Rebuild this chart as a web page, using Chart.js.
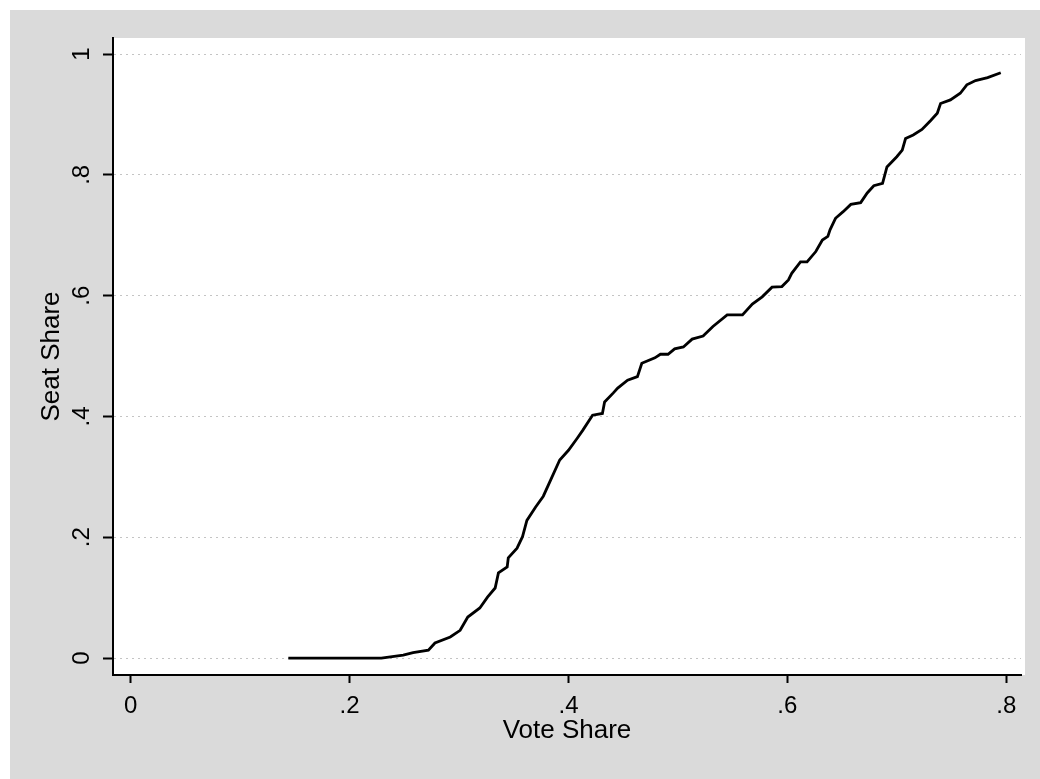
<!DOCTYPE html>
<html>
<head>
<meta charset="utf-8">
<script src="https://cdn.jsdelivr.net/npm/chart.js@4.4.1/dist/chart.umd.min.js"></script>
<style>
    html, body { margin: 0; padding: 0; background: #ffffff; }
    #wrap { width: 1040px; height: 779px; }
</style>
</head>
<body>
<div id="wrap"><canvas id="seatChart" width="1040" height="779"></canvas></div>
<script>
// Vote share vs seat share curve
var voteShare = [0.144, 0.229, 0.249, 0.258, 0.272, 0.278, 0.292, 0.301, 0.308, 0.319,
    0.326, 0.333, 0.336, 0.344, 0.345, 0.353, 0.358, 0.362, 0.370, 0.377,
    0.385, 0.392, 0.400, 0.408, 0.413, 0.422, 0.431, 0.433, 0.441, 0.445,
    0.454, 0.463, 0.467, 0.479, 0.484, 0.491, 0.497, 0.505, 0.513, 0.523,
    0.532, 0.545, 0.559, 0.568, 0.577, 0.586, 0.595, 0.601, 0.604, 0.612,
    0.618, 0.626, 0.632, 0.637, 0.639, 0.644, 0.651, 0.658, 0.667, 0.673,
    0.679, 0.687, 0.691, 0.700, 0.705, 0.708, 0.715, 0.723, 0.731, 0.737,
    0.740, 0.749, 0.758, 0.764, 0.772, 0.783, 0.795];
var seatShare = [0, 0, 0.005, 0.009, 0.013, 0.025, 0.035, 0.046, 0.068, 0.083,
    0.101, 0.116, 0.141, 0.151, 0.166, 0.182, 0.201, 0.228, 0.250, 0.268,
    0.300, 0.328, 0.344, 0.364, 0.377, 0.402, 0.405, 0.424, 0.439, 0.447,
    0.460, 0.466, 0.488, 0.497, 0.503, 0.503, 0.512, 0.515, 0.528, 0.533,
    0.549, 0.568, 0.568, 0.586, 0.598, 0.614, 0.615, 0.626, 0.637, 0.656,
    0.656, 0.673, 0.692, 0.698, 0.709, 0.728, 0.739, 0.751, 0.754, 0.770,
    0.782, 0.786, 0.813, 0.830, 0.841, 0.860, 0.866, 0.875, 0.890, 0.902,
    0.918, 0.924, 0.935, 0.949, 0.956, 0.961, 0.969];

var xTickValues = [0, 0.2, 0.4, 0.6, 0.8];
var xTickLabels = ['0', '.2', '.4', '.6', '.8'];
var yTickValues = [0, 0.2, 0.4, 0.6, 0.8, 1];
var yTickLabels = ['0', '.2', '.4', '.6', '.8', '1'];

var points = [];
for (var i = 0; i < voteShare.length; i++) {
    points.push({ x: voteShare[i], y: seatShare[i] });
}

// gray page background with a white plot region
var backgroundPlugin = {
    id: 'stataBackground',
    beforeDraw: function (chart) {
        var ctx = chart.ctx;
        var area = chart.chartArea;
        ctx.save();
        ctx.fillStyle = '#ffffff';
        ctx.fillRect(0, 0, chart.width, chart.height);
        ctx.fillStyle = '#dadada';
        ctx.fillRect(10, 10, chart.width - 10, chart.height - 10);
        ctx.fillStyle = '#ffffff';
        ctx.fillRect(area.left, area.top, area.right - area.left + 4, area.bottom - area.top);
        ctx.restore();
    }
};

var ctx = document.getElementById('seatChart').getContext('2d');
var chart = new Chart(ctx, {
    type: 'scatter',
    data: {
        datasets: [{
            label: 'Seat Share',
            data: points,
            showLine: true,
            borderColor: '#000000',
            borderWidth: 2.8,
            pointRadius: 0,
            tension: 0,
            fill: false
        }]
    },
    options: {
        responsive: false,
        animation: false,
        layout: { padding: { left: 0, top: 38, right: 19, bottom: 0 } },
        plugins: {
            legend: { display: false },
            tooltip: { enabled: false }
        },
        scales: {
            x: {
                type: 'linear',
                min: -0.0162,
                max: 0.8135,
                afterBuildTicks: function (scale) {
                    scale.ticks = xTickValues.map(function (v) { return { value: v }; });
                },
                afterFit: function (scale) { scale.height = 104; },
                ticks: {
                    color: '#000000',
                    padding: 9,
                    maxRotation: 0,
                    font: { family: 'Liberation Sans', size: 24 },
                    callback: function (value, index) { return xTickLabels[index]; }
                },
                grid: {
                    drawOnChartArea: false,
                    drawTicks: true,
                    tickLength: 8,
                    tickWidth: 2,
                    tickColor: '#000000'
                },
                border: { display: true, color: '#000000', width: 2 },
                title: {
                    display: true,
                    text: 'Vote Share',
                    color: '#000000',
                    font: { family: 'Liberation Sans', size: 26 },
                    padding: { top: 0, bottom: 33 }
                }
            },
            y: {
                type: 'linear',
                min: -0.028,
                max: 1.0265,
                afterBuildTicks: function (scale) {
                    scale.ticks = yTickValues.map(function (v) { return { value: v }; });
                },
                afterFit: function (scale) { scale.width = 113; },
                ticks: {
                    color: '#000000',
                    padding: 11,
                    minRotation: 90,
                    maxRotation: 90,
                    crossAlign: 'center',
                    font: { family: 'Liberation Sans', size: 24 },
                    callback: function (value, index) { return yTickLabels[index]; }
                },
                grid: {
                    color: '#c4c4c4',
                    lineWidth: 1,
                    drawTicks: true,
                    tickLength: 10,
                    tickWidth: 2,
                    tickColor: '#000000',
                    tickBorderDash: []
                },
                border: { display: true, color: '#000000', width: 2, dash: [2, 4] },
                title: {
                    display: true,
                    text: 'Seat Share',
                    color: '#000000',
                    font: { family: 'Liberation Sans', size: 26 },
                    padding: { top: 36, bottom: 0 }
                }
            }
        }
    },
    plugins: [backgroundPlugin]
});
</script>
</body>
</html>
